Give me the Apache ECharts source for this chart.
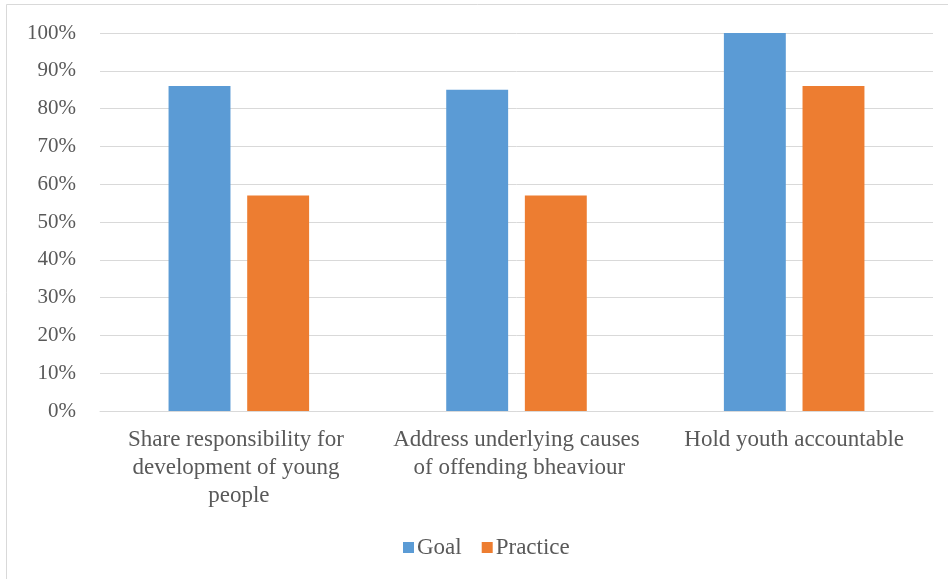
<!DOCTYPE html>
<html>
<head>
<meta charset="utf-8">
<script src="https://cdn.jsdelivr.net/npm/echarts@6/dist/echarts.min.js"></script>
<style>
  html, body { margin: 0; padding: 0; background: #fff; overflow: hidden; }
  #chart { width: 948px; height: 579px; }
</style>
</head>
<body>
<div id="chart"></div>
<script>
// categories and values
const categories = [
  'Share responsibility for development of young people',
  'Address underlying causes of offending bheaviour',
  'Hold youth accountable'
];
const goal = [0.86, 0.85, 1.00];
const practice = [0.57, 0.57, 0.86];

const textColor = '#595959';
const serif = "'Times New Roman', 'Liberation Serif', serif";

let chart = echarts.init(document.getElementById('chart'));
chart.setOption({
  animation: false,
  backgroundColor: '#fff',
  textStyle: { fontFamily: serif },
  graphic: [{
    type: 'rect',
    shape: { x: 6.5, y: 4.5, width: 1000, height: 700 },
    style: { fill: 'none', stroke: '#d9d9d9', lineWidth: 1 },
    silent: true
  }],
  grid: { left: 100, right: 15, top: 33, bottom: 168 },
  legend: {
    data: ['Goal', 'Practice'],
    left: 398,
    top: 531,
    icon: 'rect',
    itemWidth: 11,
    itemHeight: 11,
    itemGap: 20,
    textStyle: { fontFamily: serif, fontSize: 23, color: textColor, padding: [0, 0, 0, -2] }
  },
  xAxis: {
    type: 'category',
    data: categories,
    axisLine: { show: true, lineStyle: { color: '#d9d9d9', width: 1 } },
    axisTick: { show: false },
    axisLabel: {
      interval: 0,
      margin: 15,
      fontFamily: serif,
      fontSize: 23,
      lineHeight: 28,
      color: textColor,
      width: 252,
      overflow: 'break'
    }
  },
  yAxis: {
    type: 'value',
    min: 0,
    max: 1,
    interval: 0.1,
    axisLine: { show: false },
    axisTick: { show: false },
    splitLine: { lineStyle: { color: '#d9d9d9', width: 1 } },
    axisLabel: {
      margin: 24,
      fontFamily: serif,
      fontSize: 21,
      color: textColor,
      formatter: v => Math.round(v * 100) + '%'
    }
  },
  series: [
    {
      name: 'Goal',
      type: 'bar',
      data: goal,
      barWidth: '22.3%',
      barGap: '27%',
      itemStyle: { color: '#5B9BD5' }
    },
    {
      name: 'Practice',
      type: 'bar',
      data: practice,
      barWidth: '22.3%',
      itemStyle: { color: '#ED7D31' }
    }
  ]
});
</script>
</body>
</html>
